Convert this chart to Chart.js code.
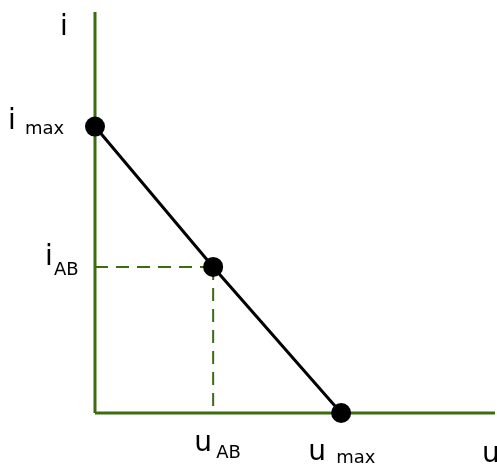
<!DOCTYPE html>
<html>
<head>
<meta charset="utf-8">
<script src="https://cdn.jsdelivr.net/npm/chart.js@4/dist/chart.umd.min.js"></script>
<style>
  html, body { margin: 0; padding: 0; background: #ffffff; }
  #wrap { width: 497px; height: 468px; position: relative; }
</style>
</head>
<body>
<div id="wrap"><canvas id="c" width="497" height="468"></canvas></div>
<script>
// Characteristic points (u, i): (0, i_max), (u_AB, i_AB), (u_max, 0)
const pointNames = ["max", "AB", "max"];
const uValues = [0, 4.8, 10];
const iValues = [10, 5.1, 0];
// Axis extents
const uAxisMax = 16.25;
const iAxisMax = 14;
// Axis names
const axisNames = { u: "u", i: "i" };
const subU = ["AB", "max"];
const subI = ["max", "AB"];

const GREEN = "#3b6d0f";

const mainLine = uValues.map((u, k) => ({ x: u, y: iValues[k] }));
const dashH = [{ x: 0, y: iValues[1] }, { x: uValues[1], y: iValues[1] }];
const dashV = [{ x: uValues[1], y: iValues[1] }, { x: uValues[1], y: 0 }];
const axisV = [{ x: 0, y: 0 }, { x: 0, y: iAxisMax }];
const axisH = [{ x: 0, y: 0 }, { x: uAxisMax, y: 0 }];

const labelPlugin = {
  id: "labels",
  afterDatasetsDraw(chart) {
    const { ctx, scales } = chart;
    const X = v => scales.x.getPixelForValue(v);
    const Y = v => scales.y.getPixelForValue(v);
    ctx.save();
    ctx.fillStyle = "#000";
    ctx.textBaseline = "alphabetic";
    ctx.textAlign = "left";
    const big = "28px 'DejaVu Sans'";
    const small = "18px 'DejaVu Sans'";
    // top "i"
    ctx.font = big;
    ctx.fillText(axisNames.i, X(0) - 35, Y(iAxisMax) + 23);
    // i max
    ctx.fillText(axisNames.i, X(0) - 87, Y(iValues[0]) + 2);
    ctx.font = small;
    ctx.fillText(subI[0], X(0) - 70, Y(iValues[0]) + 7);
    // i AB
    ctx.font = big;
    ctx.fillText(axisNames.i, X(0) - 50, Y(iValues[1]) - 2);
    ctx.font = small;
    ctx.fillText(subI[1], X(0) - 41, Y(iValues[1]) + 8);
    // u AB
    ctx.font = big;
    ctx.fillText(axisNames.u, X(uValues[1]) - 19, Y(0) + 38);
    ctx.font = small;
    ctx.fillText(subU[0], X(uValues[1]) + 3, Y(0) + 45);
    // u max
    ctx.font = big;
    ctx.fillText(axisNames.u, X(uValues[2]) - 33, Y(0) + 47);
    ctx.font = small;
    ctx.fillText(subU[1], X(uValues[2]) - 5, Y(0) + 50);
    // u axis name
    ctx.font = big;
    ctx.fillText(axisNames.u, X(uAxisMax) - 13, Y(0) + 49);
    ctx.restore();
  }
};

new Chart(document.getElementById("c"), {
  type: "scatter",
  data: {
    datasets: [
      { data: mainLine, showLine: true, borderColor: "#000", borderWidth: 3,
        pointRadius: 10, pointBackgroundColor: "#000", pointBorderColor: "#000", pointBorderWidth: 0, clip: false },
      { data: dashH, showLine: true, borderColor: GREEN, borderWidth: 2, borderDash: [13, 8],
        pointRadius: 0, clip: false },
      { data: dashV, showLine: true, borderColor: GREEN, borderWidth: 2, borderDash: [13, 8],
        pointRadius: 0, clip: false },
      { data: axisV, showLine: true, borderColor: GREEN, borderWidth: 3, pointRadius: 0, clip: false },
      { data: axisH, showLine: true, borderColor: GREEN, borderWidth: 3, pointRadius: 0, clip: false }
    ]
  },
  options: {
    responsive: false,
    animation: false,
    layout: { autoPadding: false, padding: { left: 95, top: 12, right: 2, bottom: 55 } },
    scales: {
      x: { type: "linear", display: false, min: 0, max: uAxisMax },
      y: { type: "linear", display: false, min: 0, max: iAxisMax }
    },
    plugins: { legend: { display: false }, tooltip: { enabled: false } },
    events: []
  },
  plugins: [labelPlugin]
});
</script>
</body>
</html>
